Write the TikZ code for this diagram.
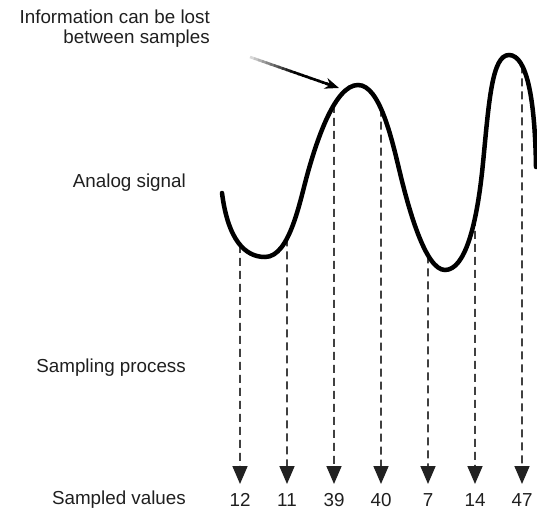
\documentclass[tikz,border=0pt]{standalone}
\usepackage{fontspec}
\setmainfont{Liberation Sans}
\usetikzlibrary{arrows.meta,intersections,calc}
\tikzset{
  lbl/.style={font=\fontsize{18.8}{21}\selectfont, text=black!88, inner sep=0pt, anchor=east},
  val/.style={font=\fontsize{18.8}{21}\selectfont, text=black!88, inner sep=0pt},
  signal/.style={line width=4.5pt, line cap=round},
  samp/.style={line width=1.7pt, dash pattern=on 8pt off 5pt, draw=black!75,
    -{Triangle[width=15pt,length=18pt,color=black!87]}, shorten >=0pt},
}
\begin{document}
\begin{tikzpicture}[x=1pt,y=-1pt]
\useasboundingbox (0,0) rectangle (537,516);
% labels
\node[lbl] (info1) at (210,17) {Information can be lost};
\node[lbl] (info2) at (210,39) {between samples};
\node[lbl] (analog) at (186,183) {Analog signal};
\node[lbl] (sampling) at (186,368) {Sampling process};
\node[lbl] (sampled) at (186,500) {Sampled values};
% signal path
\path[name path=curve] (222,193) .. controls (228,240) and (245,257) .. (265,257)
  .. controls (290,257) and (300,200) .. (308,172)
  .. controls (317,140) and (335,85) .. (358,85)
  .. controls (380,85) and (392,140) .. (400,173)
  .. controls (408,206) and (425,270) .. (445,270)
  .. controls (465,270) and (477,225) .. (483,163)
  .. controls (489,101) and (492,55) .. (509,55)
  .. controls (527,55) and (535,100) .. (536,167);
% samples
\foreach \x/\v [count=\i] in {240/12,287/11,334/39,381/40,428/7,475/14,522/47}{
  \path[name path=vl\i] (\x,0) -- (\x,516);
  \path[name intersections={of=curve and vl\i, by={top\i}}];
  \coordinate (tip\i) at (\x,484);
  \draw[samp] (top\i) -- (tip\i);
  \node[val] (num\i) at (\x,500) {\v};
}
% signal drawn on top
\draw[signal] (222,193) .. controls (228,240) and (245,257) .. (265,257)
  .. controls (290,257) and (300,200) .. (308,172)
  .. controls (317,140) and (335,85) .. (358,85)
  .. controls (380,85) and (392,140) .. (400,173)
  .. controls (408,206) and (425,270) .. (445,270)
  .. controls (465,270) and (477,225) .. (483,163)
  .. controls (489,101) and (492,55) .. (509,55)
  .. controls (527,55) and (535,100) .. (536,167);
% fading pointer
\coordinate (pstart) at (250,57);
\coordinate (ptip) at (339,88);
\foreach \k in {0,...,19}{
  \pgfmathsetmacro{\c}{min(100,15+\k*8)}
  \pgfmathsetmacro{\a}{\k/20*0.9}
  \pgfmathsetmacro{\b}{(\k+1.3)/20*0.9}
  \draw[line width=2.6pt, draw=black!\c] ($(pstart)!\a!(ptip)$) -- ($(pstart)!\b!(ptip)$);
}
\draw[line width=2.6pt, -{Stealth[length=14pt,width=11pt]}] ($(pstart)!0.85!(ptip)$) -- (ptip);
\end{tikzpicture}
\end{document}
